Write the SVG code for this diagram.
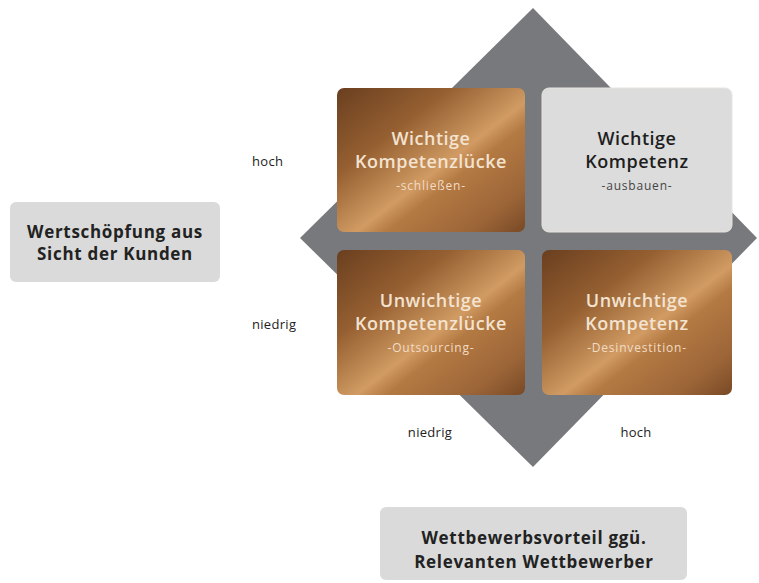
<svg xmlns="http://www.w3.org/2000/svg" width="759" height="583" viewBox="0 0 759 583">
<defs>
<linearGradient id="copper" x1="0" y1="0" x2="1" y2="1">
<stop offset="0" stop-color="#6a3f1f"/>
<stop offset="0.3" stop-color="#955f31"/>
<stop offset="0.55" stop-color="#d19b63"/>
<stop offset="0.63" stop-color="#b47a43"/>
<stop offset="0.85" stop-color="#9c6538"/>
<stop offset="1" stop-color="#784925"/>
</linearGradient>
<style>
.cu{fill:url(#copper)}
.gr{fill:#dadada}
.t{font-family:"Open Sans","DejaVu Sans",sans-serif;text-anchor:middle}
.h{font-size:18px;font-weight:600;fill:#f3e3d0;letter-spacing:0.5px}
.hd{font-size:18px;font-weight:600;fill:#1e1e1e;letter-spacing:0.5px}
.s{font-size:12px;fill:#f1dcc4;letter-spacing:0.8px}
.sd{font-size:12px;fill:#444;letter-spacing:0.8px}
.lb{font-family:"Open Sans","DejaVu Sans",sans-serif;font-size:13px;fill:#222;letter-spacing:0.3px}
.bx{font-size:17px;font-weight:700;fill:#222;letter-spacing:0.7px}
</style>
</defs>
<rect width="759" height="583" fill="#ffffff"/>
<polygon points="533,8 757,238 533,467 300,238" fill="#77797c"/>
<g id="q1">
<rect class="cu" x="337" y="88" width="188" height="144" rx="7"/>
<text class="t h" x="431" y="145">Wichtige</text>
<text class="t h" x="431" y="168">Kompetenzlücke</text>
<text class="t s" x="431" y="190">-schließen-</text>
</g>
<g id="q2">
<rect x="542" y="88" width="190" height="144" rx="7" fill="#dcdcdc" stroke="#e8e3de"/>
<text class="t hd" x="637" y="145">Wichtige</text>
<text class="t hd" x="637" y="168">Kompetenz</text>
<text class="t sd" x="637" y="190">-ausbauen-</text>
</g>
<g id="q3">
<rect class="cu" x="337" y="250" width="188" height="145" rx="7"/>
<text class="t h" x="431" y="307">Unwichtige</text>
<text class="t h" x="431" y="330">Kompetenzlücke</text>
<text class="t s" x="431" y="352">-Outsourcing-</text>
</g>
<g id="q4">
<rect class="cu" x="542" y="250" width="190" height="145" rx="7"/>
<text class="t h" x="637" y="307">Unwichtige</text>
<text class="t h" x="637" y="330">Kompetenz</text>
<text class="t s" x="637" y="352">-Desinvestition-</text>
</g>
<g id="yaxis">
<rect class="gr" x="10" y="202" width="210" height="80" rx="6"/>
<text class="t bx" x="115" y="238">Wertschöpfung aus</text>
<text class="t bx" x="115" y="260">Sicht der Kunden</text>
</g>
<g id="xaxis">
<rect class="gr" x="380" y="507" width="307" height="73" rx="6"/>
<text class="t bx" x="534" y="544">Wettbewerbsvorteil ggü.</text>
<text class="t bx" x="534" y="568">Relevanten Wettbewerber</text>
</g>
<g id="labels">
<text class="lb" x="252" y="166">hoch</text>
<text class="lb" x="252" y="329">niedrig</text>
<text class="lb" x="430" y="437" text-anchor="middle">niedrig</text>
<text class="lb" x="636" y="437" text-anchor="middle">hoch</text>
</g>
<g id="connectors"/>
</svg>
